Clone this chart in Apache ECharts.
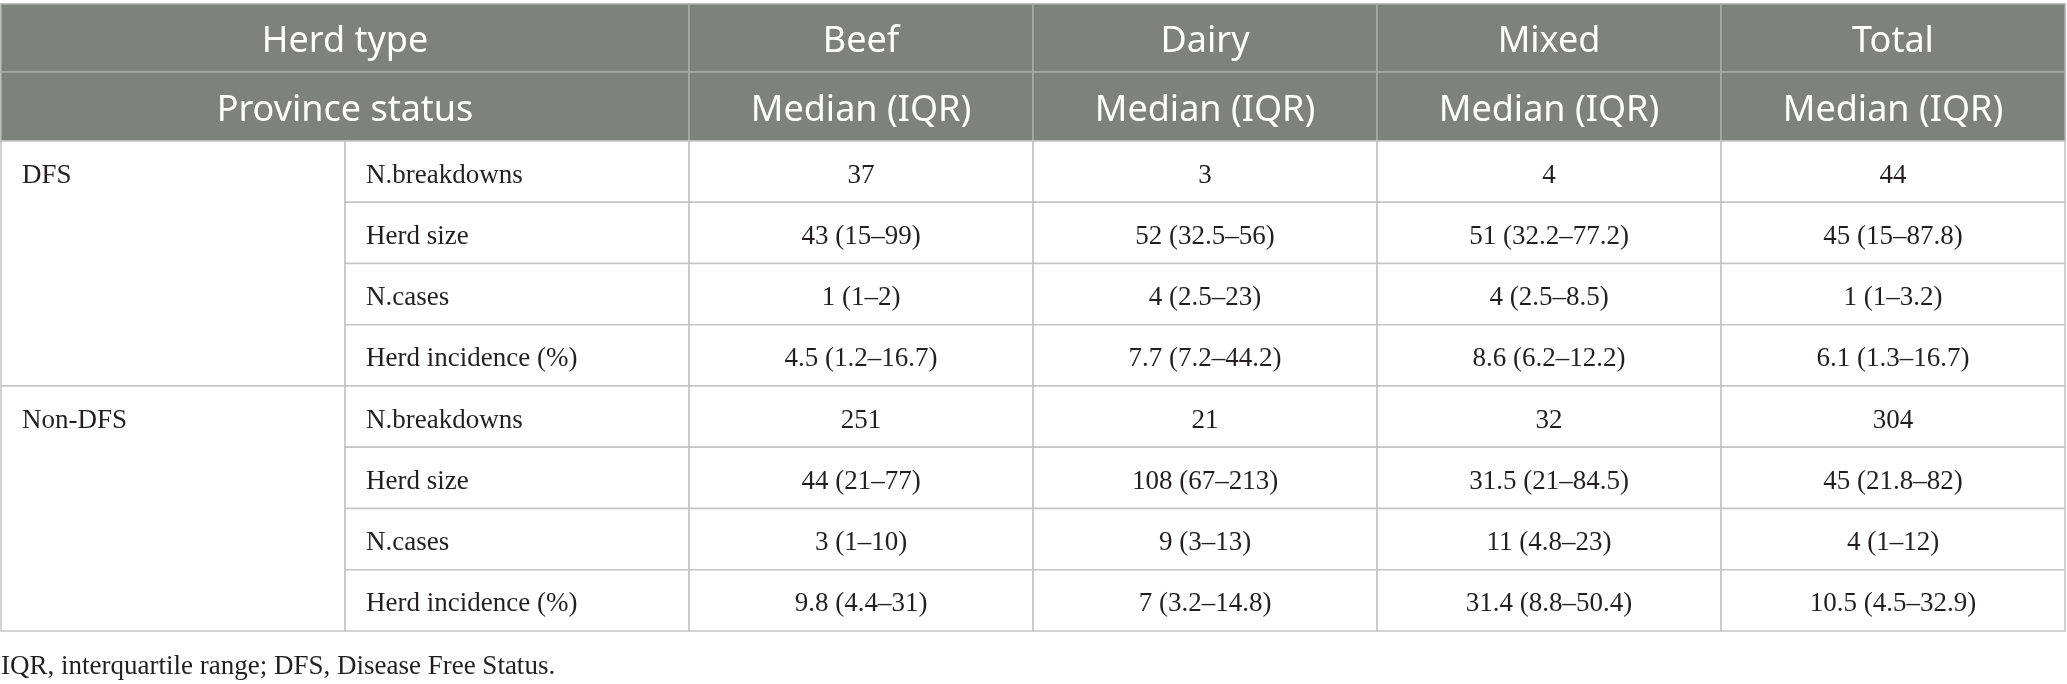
<!DOCTYPE html>
<html>
<head>
<meta charset="utf-8">
<script src="https://cdn.jsdelivr.net/npm/echarts@6/dist/echarts.min.js"></script>
<style>
  html, body { margin: 0; padding: 0; background: #ffffff; }
  #chart { width: 2067px; height: 684px; }
</style>
</head>
<body>
<div id="chart"></div>
<script>
// ---- data ----
const columnKeys = ['Province', 'Measure', 'Beef', 'Dairy', 'Mixed', 'Total'];
const herdTypes = ['Beef', 'Dairy', 'Mixed', 'Total'];
const headerLeft1 = 'Herd type';
const headerLeft2 = 'Province status';
const statLabel = 'Median (IQR)';
const provinces = ['DFS', 'Non-DFS'];
const measures = ['N.breakdowns', 'Herd size', 'N.cases', 'Herd incidence (%)'];

const beefDFS  = ['37', '43 (15–99)', '1 (1–2)', '4.5 (1.2–16.7)'];
const dairyDFS = ['3', '52 (32.5–56)', '4 (2.5–23)', '7.7 (7.2–44.2)'];
const mixedDFS = ['4', '51 (32.2–77.2)', '4 (2.5–8.5)', '8.6 (6.2–12.2)'];
const totalDFS = ['44', '45 (15–87.8)', '1 (1–3.2)', '6.1 (1.3–16.7)'];

const beefNonDFS  = ['251', '44 (21–77)', '3 (1–10)', '9.8 (4.4–31)'];
const dairyNonDFS = ['21', '108 (67–213)', '9 (3–13)', '7 (3.2–14.8)'];
const mixedNonDFS = ['32', '31.5 (21–84.5)', '11 (4.8–23)', '31.4 (8.8–50.4)'];
const totalNonDFS = ['304', '45 (21.8–82)', '4 (1–12)', '10.5 (4.5–32.9)'];

const footnote = 'IQR, interquartile range; DFS, Disease Free Status.';

// ---- layout (not data) ----
const H1 = 68;       // header row 1 height
const H2 = 69;       // header row 2 height
const BH = 61.25;    // body row height
const HEAD_END = H1 + H2;
const TOTAL_H = HEAD_END + BH * measures.length * provinces.length;

const valuesByProvince = [
  [beefDFS, dairyDFS, mixedDFS, totalDFS],
  [beefNonDFS, dairyNonDFS, mixedNonDFS, totalNonDFS]
];

// build cells: value = [colIndex, colSpan, rowTop, rowBottom]
const cells = [];
cells.push({ value: [0, 2, 0, H1], text: headerLeft1, kind: 'head' });
herdTypes.forEach((h, i) => cells.push({ value: [2 + i, 1, 0, H1], text: h, kind: 'head' }));
cells.push({ value: [0, 2, H1, HEAD_END], text: headerLeft2, kind: 'head' });
herdTypes.forEach((h, i) => cells.push({ value: [2 + i, 1, H1, HEAD_END], text: statLabel, kind: 'head' }));

provinces.forEach((p, pi) => {
  const gTop = HEAD_END + pi * measures.length * BH;
  cells.push({ value: [0, 1, gTop, gTop + measures.length * BH], text: p, kind: 'group' });
  measures.forEach((m, mi) => {
    const t = gTop + mi * BH;
    cells.push({ value: [1, 1, t, t + BH], text: m, kind: 'label' });
    valuesByProvince[pi].forEach((arr, ci) => {
      cells.push({ value: [2 + ci, 1, t, t + BH], text: arr[mi], kind: 'value' });
    });
  });
});

const SERIF = '"Liberation Serif", "DejaVu Serif", serif';
const SANS = '"Noto Sans", "Open Sans", sans-serif';

function renderItem(params, api) {
  const cell = cells[params.dataIndex];
  const c = api.value(0), span = api.value(1), y0 = api.value(2), y1 = api.value(3);
  const bw = api.size([1, 0])[0];
  const p0 = api.coord([c, y0]);
  const p1 = api.coord([c, y1]);
  const left = p0[0] - bw / 2;
  const top = p0[1];
  const w = bw * span;
  const h = p1[1] - p0[1];
  const children = [];
  if (cell.kind === 'head') {
    children.push({
      type: 'rect',
      shape: { x: left, y: top, width: w, height: h },
      style: { fill: '#7f817e', stroke: '#a9aaa8', lineWidth: 1.5 }
    });
    children.push({
      type: 'text',
      style: {
        text: cell.text, x: left + w / 2, y: top + h / 2 + 4,
        align: 'center', verticalAlign: 'middle',
        fill: '#ffffff', fontSize: 36, fontFamily: SANS
      }
    });
  } else {
    children.push({
      type: 'rect',
      shape: { x: left, y: top, width: w, height: h },
      style: { fill: '#ffffff', stroke: '#c4c4c4', lineWidth: 1.5 }
    });
    const isLeft = cell.kind === 'group' || cell.kind === 'label';
    const ty = cell.kind === 'group' ? top + BH * (h / (y1 - y0)) / 2 + 4 : top + h / 2 + 4;
    children.push({
      type: 'text',
      style: {
        text: cell.text, x: isLeft ? left + 21 : left + w / 2, y: ty,
        align: isLeft ? 'left' : 'center', verticalAlign: 'middle',
        fill: '#231f20', fontSize: 27, fontFamily: SERIF
      }
    });
  }
  return { type: 'group', children: children };
}

const chart = echarts.init(document.getElementById('chart'), null, { renderer: 'canvas' });
chart.setOption({
  animation: false,
  backgroundColor: '#ffffff',
  title: {
    text: footnote,
    left: 1, top: 653, padding: 0,
    textStyle: { fontFamily: SERIF, fontSize: 27, fontWeight: 'normal', color: '#231f20' }
  },
  grid: { left: 1, right: 2, top: 4, bottom: 684 - 4 - 627 },
  xAxis: { type: 'category', data: columnKeys, show: false, boundaryGap: true },
  yAxis: { type: 'value', min: 0, max: TOTAL_H, inverse: true, show: false },
  series: [{
    type: 'custom',
    silent: true,
    renderItem: renderItem,
    encode: { x: 0, y: [2, 3] },
    data: cells.map(c => ({ value: c.value }))
  }]
});
</script>
</body>
</html>
